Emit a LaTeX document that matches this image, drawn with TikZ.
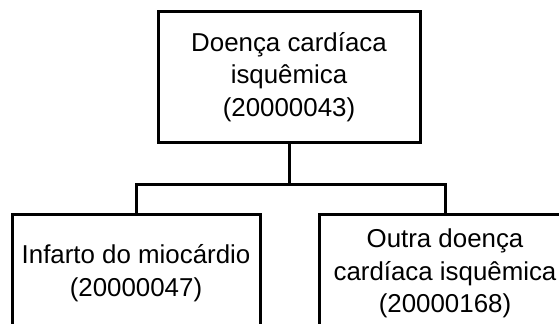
\documentclass[tikz,border=0pt]{standalone}
\usepackage{fontspec}
\setmainfont{Liberation Sans}
\begin{document}
\begin{tikzpicture}[x=0.75pt,y=-0.75pt,
  box/.style={draw=black,line width=2.25pt,align=center,inner sep=0pt,
    font=\fontsize{19.4pt}{24.6pt}\selectfont},
  conn/.style={draw=black,line width=2.25pt}]
\useasboundingbox (0,0) rectangle (559,324);
\clip (0,0) rectangle (559,324);
\node[box,minimum width=196.5pt,minimum height=97.5pt] (top) at (289,77)
  {Doença cardíaca\\isquêmica\\(20000043)};
\node[box,minimum width=186pt,minimum height=89.25pt] (left) at (136,273.5)
  {Infarto do miocárdio\\(20000047)};
\node[box,minimum width=189pt,minimum height=89.25pt] (right) at (445,273.5)
  {Outra doença\\cardíaca isquêmica\\(20000168)};
\coordinate (j) at (289,184);
\draw[conn] (top.south) -- (j);
\draw[conn] (left.north) |- (j) -| (right.north);
\end{tikzpicture}
\end{document}
